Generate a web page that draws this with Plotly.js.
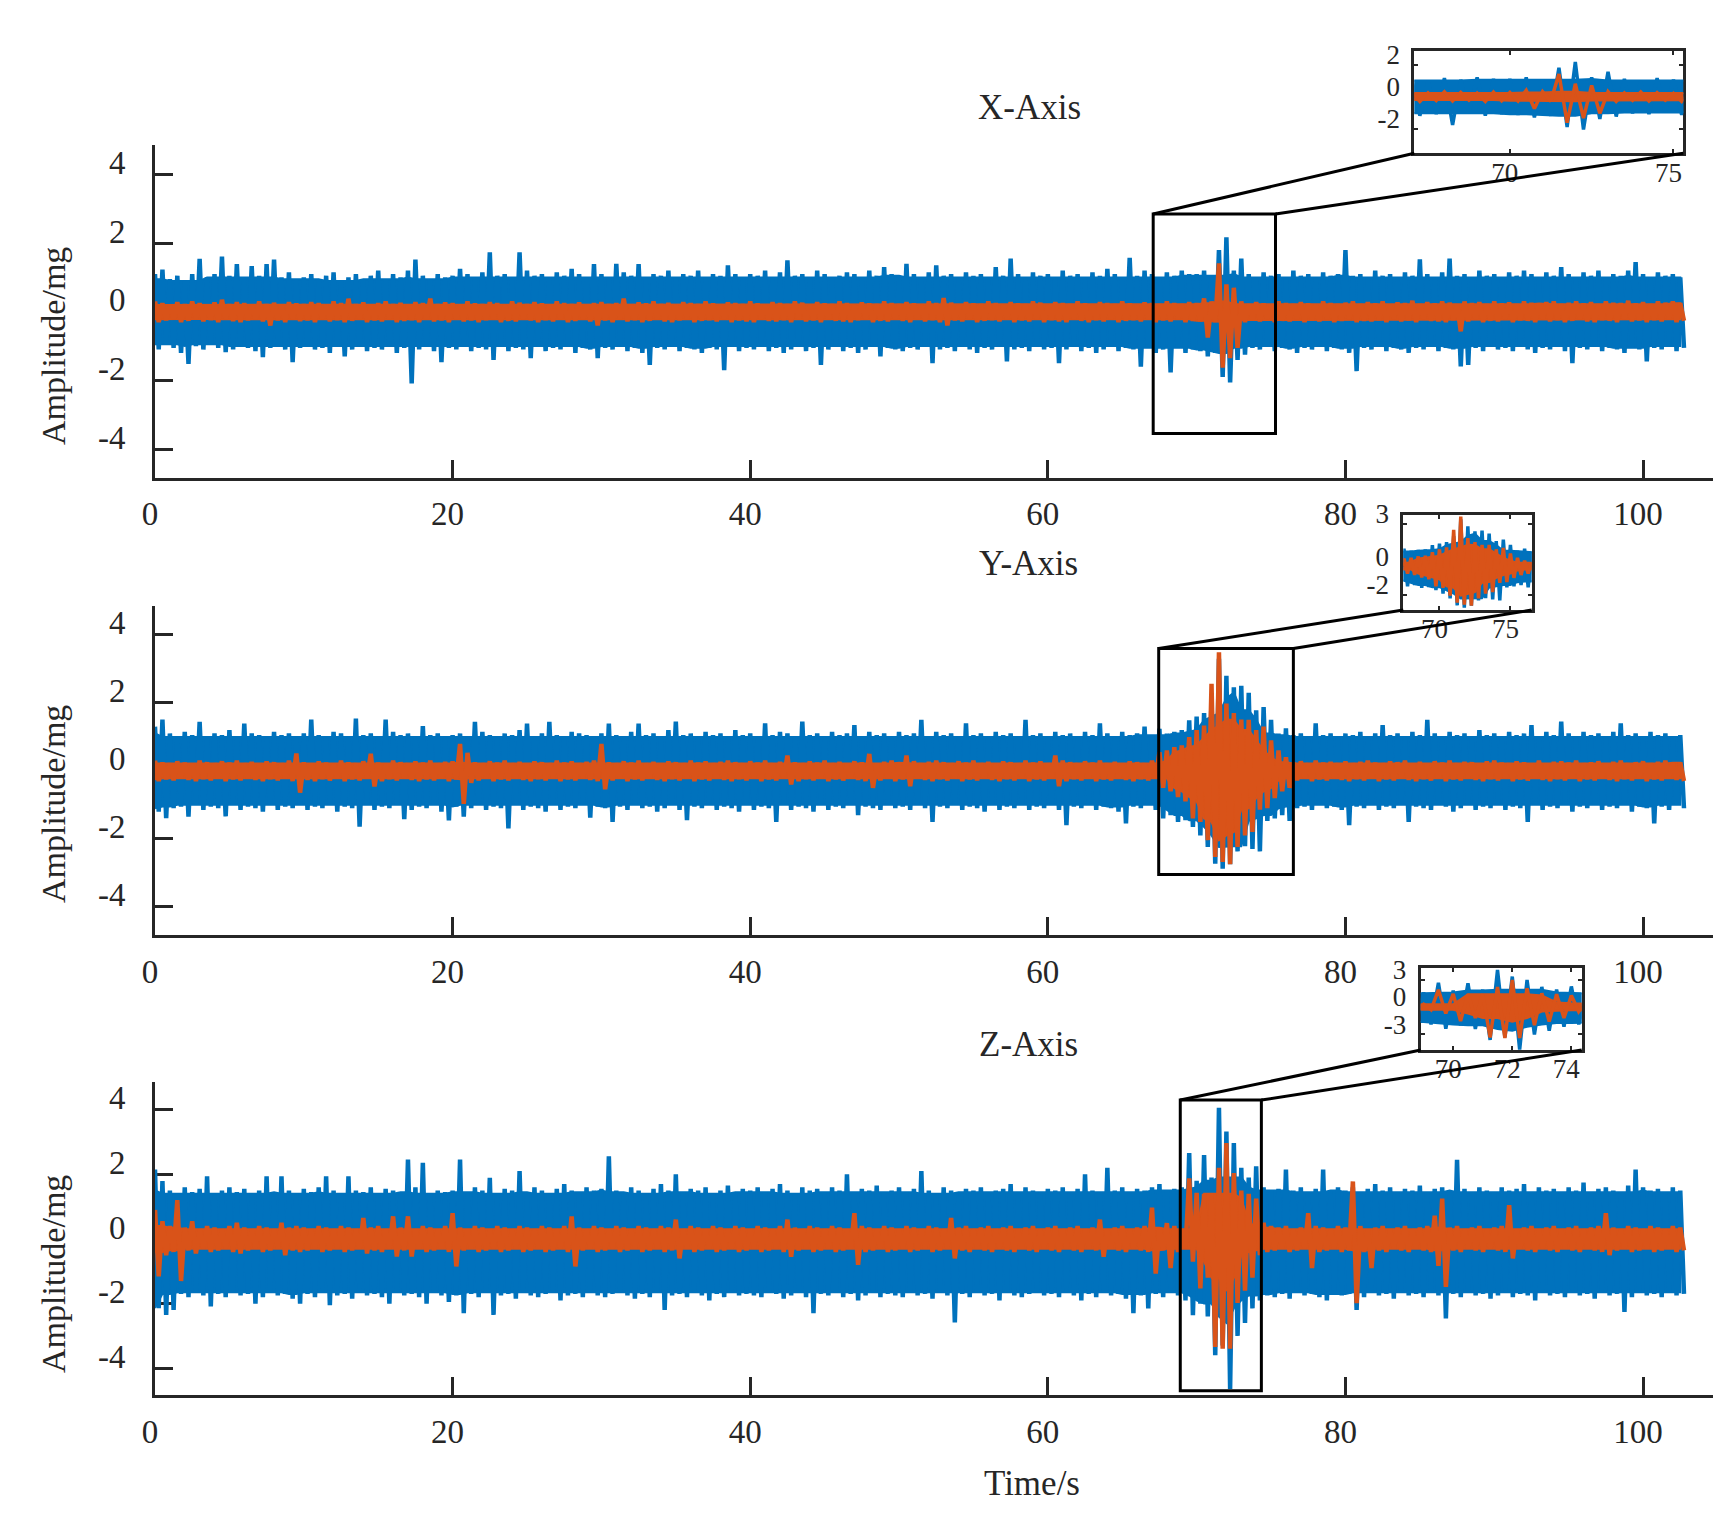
<!DOCTYPE html>
<html><head><meta charset="utf-8">
<script src="https://cdn.plot.ly/plotly-3.0.1.min.js"></script>
<style>html,body{margin:0;padding:0;background:#fff;}#chart{width:1732px;height:1528px;}</style>
</head><body><div id="chart"></div>
<script>
// ---------------- DATA (max / min of each 0.5 s bin) ----------------
const STEP = 0.5; // seconds per bin

// X-Axis : blue signal max / min, orange signal max / min
const xBlueUp = [
1.1,1.23,0.95,1.05,0.9,1.1,1.54,1.0,1.1,1.61,1.05,1.39,1.0,1.33,1.05,1.39,1.52,1.0,1.15,0.95,
1.0,1.1,0.95,1.05,1.15,0.9,1.0,1.1,0.95,1.05,1.2,0.95,1.1,1.0,1.2,1.52,1.05,0.95,1.1,1.0,
1.05,1.25,1.1,1.0,1.15,1.73,1.05,1.1,1.0,1.73,1.2,1.05,1.1,1.0,1.15,1.05,1.25,1.1,1.0,1.39,
1.1,1.0,1.4,1.15,1.05,1.39,1.0,1.1,1.05,1.2,1.0,1.1,1.05,1.2,1.0,1.1,1.05,1.35,1.1,1.0,
1.1,1.05,1.2,1.0,1.15,1.5,1.05,1.1,1.0,1.2,1.1,1.0,1.05,1.15,1.1,1.0,1.2,1.05,1.3,1.1,
1.05,1.4,1.1,1.0,1.15,1.35,1.05,1.1,1.0,1.15,1.05,1.1,1.0,1.3,1.05,1.55,1.1,1.0,1.15,1.05,
1.1,1.0,1.2,1.05,1.1,1.0,1.15,1.05,1.25,1.1,1.0,1.57,1.05,1.2,1.1,1.0,1.15,1.05,1.2,1.1,
1.1,1.2,1.05,1.8,2.17,1.2,1.55,1.1,1.0,1.15,1.05,1.1,1.0,1.2,1.05,1.1,1.0,1.15,1.05,1.1,
1.8,1.05,1.1,1.0,1.2,1.05,1.1,1.0,1.15,1.05,1.53,1.1,1.0,1.15,1.55,1.05,1.1,1.0,1.2,1.05,
1.1,1.0,1.15,1.05,1.2,1.1,1.0,1.15,1.05,1.3,1.1,1.0,1.15,1.05,1.2,1.0,1.1,1.05,1.2,1.45,
1.1,1.0,1.15,1.05,1.1,1.0];
const xBlueLow = [
-1.1,-0.95,-1.05,-1.2,-1.52,-1.0,-1.1,-0.95,-1.05,-1.18,-1.1,-1.0,-1.05,-1.15,-1.32,-1.05,-1.0,-1.1,-1.47,-1.05,
-1.0,-1.1,-1.05,-1.2,-1.0,-1.3,-1.1,-1.0,-1.15,-1.05,-1.1,-1.0,-1.2,-1.05,-2.09,-1.1,-1.0,-1.15,-1.47,-1.05,
-1.1,-1.0,-1.15,-1.05,-1.1,-1.4,-1.0,-1.15,-1.05,-1.1,-1.35,-1.0,-1.15,-1.05,-1.1,-1.0,-1.2,-1.05,-1.1,-1.35,
-1.05,-1.1,-1.0,-1.15,-1.05,-1.2,-1.55,-1.05,-1.1,-1.0,-1.15,-1.05,-1.1,-1.2,-1.05,-1.1,-1.7,-1.0,-1.15,-1.05,
-1.1,-1.0,-1.15,-1.05,-1.2,-1.1,-1.0,-1.15,-1.05,-1.55,-1.1,-1.0,-1.15,-1.05,-1.2,-1.1,-1.0,-1.3,-1.05,-1.1,
-1.15,-1.05,-1.1,-1.0,-1.5,-1.1,-1.05,-1.15,-1.0,-1.1,-1.2,-1.05,-1.1,-1.0,-1.45,-1.1,-1.05,-1.15,-1.0,-1.1,
-1.05,-1.5,-1.1,-1.0,-1.15,-1.05,-1.2,-1.1,-1.0,-1.15,-1.05,-1.1,-1.6,-1.05,-1.2,-1.1,-1.77,-1.05,-1.2,-1.1,
-1.15,-1.3,-1.2,-1.9,-2.06,-1.4,-1.25,-1.05,-1.1,-1.0,-1.15,-1.05,-1.1,-1.2,-1.05,-1.1,-1.0,-1.15,-1.05,-1.1,
-1.2,-1.73,-1.05,-1.1,-1.0,-1.15,-1.05,-1.1,-1.2,-1.05,-1.1,-1.0,-1.15,-1.05,-1.1,-1.59,-1.55,-1.05,-1.15,-1.0,
-1.1,-1.05,-1.15,-1.0,-1.1,-1.2,-1.05,-1.1,-1.0,-1.15,-1.5,-1.05,-1.1,-1.0,-1.15,-1.05,-1.1,-1.2,-1.05,-1.1,
-1.45,-1.05,-1.1,-1.0,-1.15,-1.05];
const xOrangeUp = [
0.3,0.25,0.2,0.28,0.22,0.3,0.25,0.2,0.27,0.35,0.22,0.28,0.25,0.2,0.3,0.22,0.26,0.2,0.28,0.24,
0.22,0.28,0.25,0.2,0.3,0.25,0.38,0.22,0.27,0.2,0.25,0.3,0.22,0.26,0.2,0.28,0.25,0.38,0.22,0.27,
0.25,0.2,0.3,0.24,0.22,0.28,0.25,0.2,0.3,0.26,0.22,0.28,0.24,0.2,0.3,0.25,0.22,0.27,0.2,0.25,
0.28,0.22,0.25,0.38,0.2,0.27,0.24,0.3,0.22,0.26,0.2,0.28,0.25,0.22,0.3,0.24,0.2,0.27,0.25,0.22,
0.3,0.24,0.2,0.28,0.25,0.22,0.3,0.26,0.2,0.28,0.24,0.22,0.3,0.25,0.2,0.27,0.24,0.22,0.3,0.25,
0.22,0.28,0.24,0.2,0.3,0.25,0.4,0.26,0.2,0.28,0.24,0.22,0.3,0.25,0.2,0.28,0.24,0.22,0.3,0.26,
0.2,0.28,0.25,0.22,0.3,0.24,0.2,0.28,0.25,0.22,0.3,0.24,0.2,0.27,0.25,0.22,0.3,0.25,0.22,0.28,
0.25,0.39,0.3,1.41,0.8,0.7,0.3,0.22,0.28,0.24,0.2,0.3,0.25,0.22,0.28,0.24,0.2,0.3,0.25,0.22,
0.26,0.3,0.22,0.28,0.24,0.3,0.2,0.27,0.25,0.32,0.22,0.28,0.24,0.3,0.26,0.22,0.3,0.25,0.28,0.22,
0.3,0.24,0.27,0.22,0.3,0.26,0.24,0.28,0.3,0.22,0.26,0.3,0.24,0.28,0.22,0.3,0.26,0.25,0.32,0.24,
0.28,0.22,0.3,0.26,0.3,0.25];
const xOrangeLow = [
-0.3,-0.25,-0.22,-0.3,-0.26,-0.2,-0.28,-0.24,-0.3,-0.22,-0.27,-0.3,-0.25,-0.22,-0.28,-0.4,-0.25,-0.3,-0.22,-0.27,
-0.25,-0.3,-0.22,-0.28,-0.24,-0.3,-0.26,-0.22,-0.3,-0.25,-0.28,-0.22,-0.3,-0.26,-0.24,-0.3,-0.22,-0.28,-0.25,-0.3,
-0.22,-0.28,-0.25,-0.3,-0.24,-0.22,-0.3,-0.26,-0.28,-0.22,-0.25,-0.3,-0.24,-0.28,-0.22,-0.3,-0.26,-0.22,-0.28,-0.4,
-0.25,-0.3,-0.22,-0.28,-0.24,-0.3,-0.26,-0.22,-0.28,-0.3,-0.25,-0.22,-0.3,-0.26,-0.24,-0.28,-0.22,-0.3,-0.25,-0.28,
-0.3,-0.22,-0.26,-0.28,-0.24,-0.3,-0.22,-0.28,-0.25,-0.3,-0.22,-0.26,-0.28,-0.3,-0.24,-0.22,-0.3,-0.26,-0.28,-0.22,
-0.26,-0.3,-0.22,-0.28,-0.24,-0.3,-0.4,-0.25,-0.28,-0.22,-0.3,-0.26,-0.24,-0.28,-0.22,-0.3,-0.25,-0.28,-0.22,-0.3,
-0.24,-0.28,-0.3,-0.22,-0.26,-0.3,-0.24,-0.28,-0.22,-0.3,-0.26,-0.24,-0.28,-0.22,-0.3,-0.25,-0.28,-0.22,-0.3,-0.26,
-0.28,-0.75,-0.3,-1.63,-1.35,-1.05,-0.3,-0.24,-0.28,-0.22,-0.3,-0.26,-0.28,-0.22,-0.3,-0.25,-0.28,-0.22,-0.3,-0.26,
-0.22,-0.3,-0.26,-0.28,-0.24,-0.3,-0.22,-0.28,-0.25,-0.3,-0.22,-0.26,-0.28,-0.3,-0.24,-0.57,-0.28,-0.22,-0.3,-0.26,
-0.28,-0.22,-0.3,-0.25,-0.26,-0.3,-0.22,-0.28,-0.24,-0.3,-0.26,-0.22,-0.28,-0.3,-0.24,-0.26,-0.3,-0.22,-0.28,-0.25,
-0.3,-0.24,-0.28,-0.22,-0.3,-0.26];

// Y-Axis
const yBlueUp = [
1.3,1.51,1.1,1.0,1.15,1.05,1.44,1.0,1.1,1.05,1.2,1.0,1.39,1.1,1.05,1.0,1.15,1.05,1.1,1.0,
1.1,1.51,1.05,1.0,1.15,1.1,1.0,1.54,1.05,1.1,1.0,1.51,1.15,1.05,1.1,1.0,1.32,1.05,1.1,1.0,
1.05,1.1,1.0,1.44,1.15,1.05,1.0,1.1,1.05,1.2,1.39,1.0,1.1,1.44,1.05,1.0,1.15,1.1,1.05,1.0,
1.1,1.39,1.05,1.0,1.15,1.39,1.05,1.1,1.0,1.2,1.45,1.05,1.1,1.0,1.15,1.05,1.1,1.0,1.2,1.05,
1.1,1.0,1.4,1.05,1.15,1.1,1.0,1.45,1.05,1.1,1.0,1.15,1.05,1.1,1.35,1.0,1.15,1.05,1.1,1.0,
1.15,1.05,1.1,1.5,1.0,1.15,1.05,1.1,1.0,1.4,1.05,1.1,1.0,1.15,1.05,1.1,1.0,1.5,1.05,1.1,
1.0,1.15,1.05,1.1,1.0,1.15,1.05,1.4,1.1,1.0,1.15,1.05,1.1,1.3,1.05,1.24,1.1,1.15,1.2,1.49,
1.6,1.7,2.13,3.3,2.8,2.46,2.5,2.3,1.78,1.88,1.5,1.1,1.25,1.05,1.1,1.0,1.4,1.05,1.1,1.0,
1.1,1.05,1.15,1.0,1.1,1.35,1.05,1.1,1.0,1.15,1.05,1.5,1.1,1.0,1.15,1.05,1.1,1.0,1.2,1.05,
1.1,1.0,1.15,1.05,1.1,1.35,1.0,1.15,1.05,1.45,1.1,1.0,1.15,1.05,1.1,1.0,1.15,1.4,1.05,1.1,
1.0,1.15,1.05,1.1,1.0,1.05];
const yBlueLow = [
-1.2,-1.39,-1.1,-1.05,-1.35,-1.0,-1.15,-1.05,-1.1,-1.34,-1.0,-1.15,-1.05,-1.1,-1.2,-1.0,-1.15,-1.05,-1.1,-1.0,
-1.15,-1.05,-1.1,-1.0,-1.2,-1.05,-1.1,-1.64,-1.0,-1.15,-1.05,-1.1,-1.0,-1.42,-1.15,-1.05,-1.1,-1.0,-1.2,-1.46,
-1.05,-1.35,-1.1,-1.0,-1.15,-1.05,-1.1,-1.69,-1.0,-1.15,-1.05,-1.1,-1.2,-1.0,-1.15,-1.05,-1.1,-1.0,-1.38,-1.05,
-1.1,-1.5,-1.05,-1.15,-1.0,-1.1,-1.05,-1.2,-1.1,-1.0,-1.15,-1.45,-1.05,-1.1,-1.0,-1.15,-1.05,-1.1,-1.2,-1.0,
-1.15,-1.05,-1.1,-1.5,-1.0,-1.15,-1.05,-1.1,-1.2,-1.0,-1.15,-1.05,-1.1,-1.0,-1.3,-1.05,-1.1,-1.15,-1.0,-1.1,
-1.05,-1.15,-1.0,-1.1,-1.5,-1.05,-1.1,-1.0,-1.15,-1.05,-1.1,-1.2,-1.0,-1.15,-1.05,-1.1,-1.0,-1.15,-1.05,-1.1,
-1.0,-1.15,-1.6,-1.05,-1.1,-1.0,-1.15,-1.05,-1.1,-1.2,-1.55,-1.05,-1.1,-1.0,-1.15,-1.4,-1.3,-1.5,-1.45,-1.65,
-1.9,-2.24,-2.73,-2.88,-2.75,-2.37,-2.22,-2.3,-2.37,-1.47,-1.4,-1.3,-1.47,-1.1,-1.05,-1.15,-1.0,-1.1,-1.05,-1.15,
-1.6,-1.05,-1.1,-1.0,-1.15,-1.05,-1.1,-1.0,-1.5,-1.05,-1.1,-1.15,-1.0,-1.05,-1.2,-1.1,-1.0,-1.15,-1.05,-1.1,
-1.0,-1.15,-1.05,-1.1,-1.5,-1.0,-1.15,-1.05,-1.1,-1.0,-1.2,-1.05,-1.1,-1.0,-1.15,-1.05,-1.1,-1.0,-1.2,-1.05,
-1.1,-1.55,-1.05,-1.15,-1.0,-1.1];
const yOrangeUp = [
0.3,0.25,0.22,0.28,0.24,0.2,0.3,0.25,0.22,0.28,0.24,0.3,0.22,0.26,0.2,0.28,0.25,0.22,0.3,0.51,
0.25,0.22,0.28,0.24,0.2,0.3,0.25,0.22,0.28,0.5,0.24,0.2,0.3,0.25,0.22,0.28,0.24,0.3,0.22,0.26,
0.28,0.79,0.53,0.25,0.22,0.28,0.24,0.3,0.22,0.26,0.2,0.28,0.25,0.22,0.3,0.24,0.28,0.22,0.26,0.3,
0.79,0.25,0.22,0.28,0.24,0.3,0.22,0.26,0.2,0.28,0.25,0.22,0.3,0.24,0.28,0.22,0.26,0.3,0.25,0.22,
0.28,0.24,0.3,0.22,0.26,0.45,0.25,0.22,0.28,0.24,0.3,0.22,0.26,0.2,0.28,0.25,0.5,0.22,0.26,0.3,
0.24,0.45,0.28,0.22,0.26,0.3,0.25,0.22,0.28,0.24,0.3,0.22,0.26,0.2,0.28,0.25,0.22,0.3,0.24,0.28,
0.22,0.45,0.3,0.25,0.22,0.28,0.24,0.3,0.22,0.26,0.2,0.28,0.25,0.22,0.3,0.55,0.6,0.7,0.75,0.99,
1.2,1.33,2.56,3.49,1.98,1.7,1.51,1.5,1.2,1.3,0.9,0.6,0.4,0.25,0.28,0.22,0.3,0.24,0.26,0.22,
0.28,0.22,0.26,0.3,0.24,0.22,0.28,0.25,0.3,0.22,0.26,0.2,0.28,0.24,0.3,0.22,0.26,0.25,0.22,0.28,
0.3,0.24,0.22,0.28,0.25,0.2,0.3,0.22,0.26,0.28,0.24,0.3,0.22,0.25,0.28,0.2,0.26,0.3,0.22,0.25,
0.28,0.22,0.26,0.3,0.24,0.25];
const yOrangeLow = [
-0.3,-0.25,-0.28,-0.22,-0.26,-0.3,-0.24,-0.28,-0.22,-0.3,-0.25,-0.28,-0.22,-0.26,-0.3,-0.24,-0.28,-0.22,-0.3,-0.64,
-0.26,-0.3,-0.24,-0.28,-0.22,-0.3,-0.25,-0.28,-0.22,-0.46,-0.3,-0.24,-0.28,-0.22,-0.26,-0.3,-0.25,-0.28,-0.22,-0.3,
-0.25,-0.97,-0.35,-0.28,-0.22,-0.3,-0.25,-0.28,-0.22,-0.26,-0.3,-0.24,-0.28,-0.22,-0.3,-0.25,-0.28,-0.22,-0.26,-0.3,
-0.54,-0.28,-0.22,-0.3,-0.25,-0.28,-0.22,-0.26,-0.3,-0.24,-0.28,-0.22,-0.3,-0.25,-0.28,-0.22,-0.26,-0.3,-0.24,-0.28,
-0.22,-0.3,-0.25,-0.28,-0.22,-0.4,-0.3,-0.24,-0.28,-0.22,-0.3,-0.25,-0.28,-0.22,-0.26,-0.3,-0.5,-0.28,-0.22,-0.3,
-0.25,-0.45,-0.22,-0.26,-0.3,-0.24,-0.28,-0.22,-0.3,-0.25,-0.28,-0.22,-0.26,-0.3,-0.24,-0.28,-0.22,-0.3,-0.25,-0.28,
-0.22,-0.45,-0.3,-0.24,-0.28,-0.22,-0.3,-0.25,-0.28,-0.22,-0.26,-0.3,-0.24,-0.28,-0.22,-0.5,-0.6,-0.77,-0.9,-1.4,
-1.5,-2.04,-2.53,-2.68,-2.75,-2.24,-1.9,-1.8,-1.14,-1.1,-0.8,-0.6,-0.5,-0.28,-0.22,-0.3,-0.25,-0.28,-0.22,-0.26,
-0.3,-0.24,-0.28,-0.22,-0.3,-0.25,-0.28,-0.22,-0.26,-0.3,-0.24,-0.28,-0.22,-0.3,-0.25,-0.28,-0.22,-0.26,-0.3,-0.24,
-0.28,-0.22,-0.3,-0.25,-0.28,-0.22,-0.26,-0.3,-0.24,-0.28,-0.22,-0.3,-0.25,-0.28,-0.22,-0.26,-0.3,-0.24,-0.28,-0.22,
-0.3,-0.25,-0.28,-0.22,-0.26,-0.3];

// Z-Axis
const zBlueUp = [
2.15,1.79,1.5,1.4,1.6,1.45,1.55,1.94,1.4,1.5,1.6,1.45,1.55,1.4,1.5,1.94,1.45,1.94,1.5,1.4,
1.55,1.45,1.6,1.94,1.5,1.4,1.94,1.5,1.45,1.6,1.4,1.55,1.5,1.45,2.46,1.6,2.36,1.4,1.5,1.45,
1.5,2.46,1.45,1.6,1.5,1.89,1.4,1.55,1.5,2.1,1.45,1.6,1.5,1.4,1.55,1.7,1.5,1.45,1.6,1.5,
1.55,2.56,1.5,1.45,1.6,1.5,1.4,1.55,1.7,1.5,2.0,1.45,1.55,1.5,1.6,1.4,1.5,1.65,1.45,1.55,
1.5,1.6,1.45,1.55,1.7,1.5,1.4,1.6,1.5,1.55,1.45,1.6,1.5,2.0,1.45,1.55,1.5,1.65,1.45,1.5,
1.6,1.45,1.55,2.1,1.5,1.4,1.6,1.5,1.45,1.55,1.5,1.6,1.45,1.5,1.55,1.7,1.45,1.6,1.5,1.45,
1.55,1.5,1.6,1.45,1.55,2.0,1.5,1.45,2.2,1.5,1.6,1.45,1.55,1.5,1.6,1.7,1.5,1.55,1.6,2.66,
1.8,2.6,1.9,4.06,3.33,2.97,2.2,1.9,2.25,1.6,1.5,1.55,2.15,1.5,1.6,1.45,1.55,2.15,1.5,1.6,
1.5,1.6,1.45,1.55,1.7,1.5,1.6,1.45,1.55,1.5,1.65,1.45,1.55,1.6,1.5,2.45,1.55,1.45,1.6,1.5,
1.45,1.6,1.5,1.55,1.7,1.45,1.6,1.5,1.55,1.45,1.6,1.5,1.75,1.45,1.55,1.6,1.5,1.45,1.65,2.15,
1.6,1.5,1.55,1.45,1.6,1.5];
const zBlueLow = [
-2.14,-2.35,-2.2,-1.7,-1.8,-1.65,-1.75,-2.09,-1.7,-1.8,-1.65,-1.75,-1.7,-2.0,-1.8,-1.65,-1.75,-1.7,-1.85,-2.0,
-1.7,-1.8,-1.65,-2.05,-1.75,-1.7,-1.85,-1.65,-1.75,-1.7,-1.8,-2.0,-1.65,-1.75,-1.7,-1.8,-2.0,-1.65,-1.75,-1.95,
-1.75,-2.3,-1.7,-1.8,-1.65,-2.35,-1.75,-1.7,-1.85,-1.65,-1.75,-1.8,-1.7,-1.65,-1.9,-1.75,-1.7,-1.8,-1.65,-1.75,
-1.8,-1.7,-1.65,-1.75,-1.85,-1.7,-1.8,-1.65,-2.2,-1.75,-1.7,-1.8,-1.65,-1.75,-1.9,-1.7,-1.8,-1.65,-1.75,-1.7,
-1.75,-1.8,-1.65,-1.7,-1.85,-1.75,-1.65,-1.8,-2.3,-1.7,-1.75,-1.65,-1.8,-1.7,-1.9,-1.75,-1.65,-1.8,-1.7,-1.75,
-1.8,-1.65,-1.75,-1.7,-1.85,-1.65,-1.75,-2.58,-1.7,-1.8,-1.65,-1.75,-1.7,-1.9,-1.65,-1.75,-1.8,-1.7,-1.65,-1.75,
-1.7,-1.8,-1.65,-1.75,-1.9,-1.7,-1.8,-1.65,-1.75,-1.7,-1.85,-2.3,-1.75,-2.15,-1.7,-1.8,-1.65,-1.75,-1.9,-2.36,
-2.0,-2.4,-3.6,-3.3,-4.64,-3.0,-2.6,-2.15,-1.9,-1.75,-1.8,-1.7,-1.85,-1.65,-1.75,-1.7,-1.8,-1.9,-1.7,-1.75,
-1.7,-2.2,-1.8,-1.65,-1.75,-1.7,-1.85,-1.65,-1.75,-1.7,-1.8,-1.65,-1.75,-2.46,-1.7,-1.8,-1.65,-1.75,-1.7,-1.85,
-1.75,-1.65,-1.8,-1.7,-1.75,-1.9,-1.65,-1.75,-1.7,-1.8,-1.65,-1.75,-1.7,-1.85,-1.65,-1.75,-1.7,-2.26,-1.8,-1.65,
-1.75,-1.7,-1.8,-1.65,-1.75,-1.7];
const zOrangeUp = [
0.9,0.55,0.4,1.2,0.35,0.55,0.3,0.4,0.35,0.3,0.4,0.5,0.35,0.3,0.4,0.35,0.3,0.5,0.35,0.4,
0.35,0.3,0.4,0.35,0.3,0.4,0.35,0.3,0.65,0.35,0.4,0.3,0.7,0.35,0.7,0.3,0.4,0.35,0.3,0.4,
0.8,0.35,0.3,0.4,0.35,0.3,0.4,0.35,0.3,0.4,0.35,0.3,0.4,0.35,0.3,0.4,0.7,0.35,0.3,0.4,
0.35,0.3,0.4,0.35,0.3,0.4,0.35,0.3,0.4,0.35,0.6,0.3,0.4,0.35,0.3,0.4,0.35,0.3,0.4,0.35,
0.3,0.4,0.35,0.3,0.4,0.6,0.35,0.3,0.4,0.35,0.3,0.4,0.35,0.3,0.8,0.4,0.35,0.3,0.4,0.35,
0.3,0.4,0.35,0.3,0.4,0.35,0.3,0.65,0.35,0.4,0.3,0.35,0.4,0.3,0.35,0.4,0.3,0.35,0.4,0.3,
0.35,0.4,0.3,0.35,0.4,0.3,0.35,0.6,0.3,0.35,0.4,0.3,0.35,0.4,0.97,0.35,0.49,0.4,0.3,1.88,
1.43,1.4,1.4,2.2,2.97,2.04,1.5,1.4,1.25,0.5,0.4,0.35,0.4,0.3,0.35,0.8,0.4,0.35,0.3,0.4,
0.35,1.78,0.4,0.3,0.35,0.4,0.3,0.35,0.4,0.3,0.35,0.4,0.72,1.25,0.35,0.4,0.3,0.35,0.4,0.3,
0.35,0.4,1.05,0.3,0.35,0.4,0.3,0.35,0.4,0.3,0.35,0.4,0.3,0.35,0.4,0.8,0.35,0.3,0.4,0.35,
0.3,0.4,0.35,0.3,0.4,0.35];
const zOrangeLow = [
-1.16,-0.5,-0.4,-1.3,-0.35,-0.45,-0.3,-0.4,-0.35,-0.3,-0.4,-0.45,-0.35,-0.3,-0.4,-0.35,-0.3,-0.5,-0.35,-0.4,
-0.35,-0.3,-0.4,-0.35,-0.3,-0.4,-0.35,-0.3,-0.45,-0.35,-0.4,-0.3,-0.54,-0.35,-0.54,-0.3,-0.4,-0.35,-0.3,-0.4,
-0.85,-0.35,-0.3,-0.4,-0.35,-0.3,-0.4,-0.35,-0.3,-0.4,-0.35,-0.3,-0.4,-0.35,-0.3,-0.4,-0.85,-0.35,-0.3,-0.4,
-0.35,-0.3,-0.4,-0.35,-0.3,-0.4,-0.35,-0.3,-0.4,-0.35,-0.6,-0.3,-0.4,-0.35,-0.3,-0.4,-0.35,-0.3,-0.4,-0.35,
-0.3,-0.4,-0.35,-0.3,-0.4,-0.55,-0.35,-0.3,-0.4,-0.35,-0.3,-0.4,-0.35,-0.3,-0.8,-0.4,-0.35,-0.3,-0.4,-0.35,
-0.3,-0.4,-0.35,-0.3,-0.4,-0.35,-0.3,-0.6,-0.35,-0.4,-0.3,-0.35,-0.4,-0.3,-0.35,-0.4,-0.3,-0.35,-0.4,-0.3,
-0.35,-0.4,-0.3,-0.35,-0.4,-0.3,-0.35,-0.55,-0.3,-0.35,-0.4,-0.3,-0.35,-0.4,-1.07,-0.35,-0.9,-0.4,-0.3,-0.7,
-1.53,-1.2,-3.34,-3.4,-3.4,-1.98,-1.6,-1.2,-0.5,-0.4,-0.35,-0.3,-0.4,-0.35,-0.3,-0.9,-0.4,-0.35,-0.3,-0.4,
-0.35,-1.99,-0.4,-0.9,-0.35,-0.4,-0.3,-0.35,-0.4,-0.3,-0.35,-0.4,-0.83,-1.48,-0.35,-0.4,-0.3,-0.35,-0.4,-0.3,
-0.35,-0.4,-0.6,-0.3,-0.35,-0.4,-0.3,-0.35,-0.4,-0.3,-0.35,-0.4,-0.3,-0.35,-0.4,-0.5,-0.35,-0.3,-0.4,-0.35,
-0.3,-0.4,-0.35,-0.3,-0.4,-0.35];

// Axis ticks and labels
const panelTitles = ['X-Axis', 'Y-Axis', 'Z-Axis'];
const xTickVals = [0, 20, 40, 60, 80, 100];
const yTickVals = [-4, -2, 0, 2, 4];
const yTickText = ['-4', '-2', '0', '2', '4'];
const insetXTicks = [[70, 75], [70, 75], [70, 72, 74]];
const insetYTicks = [[-2, 0, 2], [-2, 0, 3], [-3, 0, 3]];
const insetYText  = [['-2', '0', '2'], ['-2', '0', '3'], ['-3', '0', '3']];
// zoom windows (time range, amplitude range) shown in each inset
const zoomTime = [[67.08, 75.3], [67.45, 76.5], [68.9, 74.35]];
const zoomAmp  = [[-3.55, 2.85], [-3.05, 3.6], [-4.7, 4.3]];
const xRangeMain = [0, 104.7];
const yRangeMain = [-4.83, 4.86];

// ---------------- LAYOUT ----------------
const W = 1732, H = 1528;
const FONT = 'Liberation Serif, Times New Roman, serif';
const AX = '#262626';
const BLUE = '#0072BD', ORANGE = '#D95319';
const px = v => v / W, py = v => 1 - v / H;

const mainBox = [[155, 1713, 145, 477.5], [155, 1713, 605.7, 935], [155, 1713, 1082, 1395]];
const insetBox = [[1414.3, 1683.3, 51, 153.3], [1403.3, 1531.7, 515, 610], [1420.7, 1581.7, 967.7, 1050]];
const titlePos = [[1029, 108], [1028, 564], [1028, 1044]];
const ylabelY = [346, 804, 1274];

const panels = [
  [xBlueUp, xBlueLow, xOrangeUp, xOrangeLow],
  [yBlueUp, yBlueLow, yOrangeUp, yOrangeLow],
  [zBlueUp, zBlueLow, zOrangeUp, zOrangeLow]
];

const traces = [];
// one signal: solid core (common level of neighbouring bins) + min/max trace of each bin
function addSignal(up, low, color, xa, ya, lw) {
  const n = Math.min(up.length, low.length);
  const t = [], coreTop = [], coreBot = [];
  for (let i = 0; i < n; i++) {
    const a = Math.max(0, i - 2), b = Math.min(n - 1, i + 2);
    t.push(i * STEP);
    coreTop.push(Math.min(...up.slice(a, b + 1)));
    coreBot.push(Math.max(...low.slice(a, b + 1)));
  }
  traces.push({type: 'scatter', mode: 'lines', xaxis: xa, yaxis: ya,
    x: t.concat(t.slice().reverse()), y: coreTop.concat(coreBot.slice().reverse()),
    fill: 'toself', fillcolor: color, line: {color: color, width: 2},
    hoverinfo: 'skip', showlegend: false});
  const zx = [], zy = [];
  for (let i = 0; i < n; i++) {
    zx.push(i * STEP, i * STEP + STEP / 2);
    zy.push(up[i], low[i]);
  }
  traces.push({type: 'scatter', mode: 'lines', xaxis: xa, yaxis: ya, x: zx, y: zy,
    line: {color: color, width: lw}, hoverinfo: 'skip', showlegend: false});
}

const layout = {
  width: W, height: H, margin: {l: 0, r: 0, t: 0, b: 0},
  paper_bgcolor: '#fff', plot_bgcolor: 'rgba(0,0,0,0)', showlegend: false,
  annotations: [], shapes: []
};

function id(n) { return n === 1 ? '' : String(n); }

for (let p = 0; p < 3; p++) {
  const [bu, bl, ou, ol] = panels[p];
  const m = p + 1, s = p + 4;
  const xa = 'x' + id(m), ya = 'y' + id(m);
  const xs = 'x' + s, ys = 'y' + s;
  addSignal(bu, bl, BLUE, xa, ya, 4.5);
  addSignal(ou, ol, ORANGE, xa, ya, 4.5);
  addSignal(bu, bl, BLUE, xs, ys, 3.5);
  addSignal(ou, ol, ORANGE, xs, ys, 3.5);

  const mb = mainBox[p], ib = insetBox[p];
  const mxd = [px(mb[0]), px(mb[1])], myd = [py(mb[3]), py(mb[2])];
  const ixd = [px(ib[0]), px(ib[1])], iyd = [py(ib[3]), py(ib[2])];

  layout['xaxis' + id(m)] = {
    domain: mxd, range: xRangeMain, anchor: ya, tickmode: 'array', tickvals: xTickVals,
    ticks: 'inside', ticklen: 18, tickwidth: 3, tickcolor: AX, showline: true, linewidth: 3, linecolor: AX,
    showgrid: false, zeroline: false, layer: 'below traces', fixedrange: true,
    tickfont: {family: FONT, size: 33, color: AX}, ticklabelshift: -5, ticklabelstandoff: 5
  };
  layout['yaxis' + id(m)] = {
    domain: myd, range: yRangeMain, anchor: xa, tickmode: 'array', tickvals: yTickVals, ticktext: yTickText,
    ticks: 'inside', ticklen: 18, tickwidth: 3, tickcolor: AX, showline: true, linewidth: 3, linecolor: AX,
    showgrid: false, zeroline: false, layer: 'below traces', fixedrange: true,
    tickfont: {family: FONT, size: 33, color: AX}, ticklabelshift: -12, ticklabelstandoff: 20
  };
  layout['xaxis' + s] = {
    domain: ixd, range: zoomTime[p], anchor: ys, tickmode: 'array', tickvals: insetXTicks[p],
    ticks: 'inside', ticklen: 4, tickwidth: 2, tickcolor: AX, showline: true, linewidth: 3, linecolor: AX,
    mirror: 'ticks', showgrid: false, zeroline: false, layer: 'below traces', fixedrange: true,
    tickfont: {family: FONT, size: 27, color: AX}, ticklabelshift: -5, ticklabelstandoff: -7
  };
  layout['yaxis' + s] = {
    domain: iyd, range: zoomAmp[p], anchor: xs, tickmode: 'array', tickvals: insetYTicks[p], ticktext: insetYText[p],
    ticks: 'inside', ticklen: 4, tickwidth: 2, tickcolor: AX, showline: true, linewidth: 3, linecolor: AX,
    mirror: 'ticks', showgrid: false, zeroline: false, layer: 'below traces', fixedrange: true,
    tickfont: {family: FONT, size: 27, color: AX}, ticklabelshift: -10, ticklabelstandoff: 6
  };

  // zoom rectangle on the main axes
  layout.shapes.push({type: 'rect', xref: xa, yref: ya, x0: zoomTime[p][0], x1: zoomTime[p][1],
    y0: zoomAmp[p][0], y1: zoomAmp[p][1], line: {color: '#000', width: 3}, fillcolor: 'rgba(0,0,0,0)'});
  // connector lines from the rectangle's top corners to the inset's bottom corners
  const toPX = v => mxd[0] + (v - xRangeMain[0]) / (xRangeMain[1] - xRangeMain[0]) * (mxd[1] - mxd[0]);
  const toPY = v => myd[0] + (v - yRangeMain[0]) / (yRangeMain[1] - yRangeMain[0]) * (myd[1] - myd[0]);
  layout.shapes.push({type: 'line', xref: 'paper', yref: 'paper',
    x0: toPX(zoomTime[p][0]), y0: toPY(zoomAmp[p][1]), x1: ixd[0], y1: iyd[0], line: {color: '#000', width: 3}});
  layout.shapes.push({type: 'line', xref: 'paper', yref: 'paper',
    x0: toPX(zoomTime[p][1]), y0: toPY(zoomAmp[p][1]), x1: ixd[1], y1: iyd[0], line: {color: '#000', width: 3}});

  layout.annotations.push({text: panelTitles[p], xref: 'paper', yref: 'paper',
    x: px(titlePos[p][0]), y: py(titlePos[p][1]), xanchor: 'center', yanchor: 'middle', showarrow: false,
    font: {family: FONT, size: 35, color: AX}});
  layout.annotations.push({text: 'Amplitude/mg', xref: 'paper', yref: 'paper',
    x: px(53), y: py(ylabelY[p]), xanchor: 'center', yanchor: 'middle', textangle: -90, showarrow: false,
    font: {family: FONT, size: 34, color: AX}});
}
layout.annotations.push({text: 'Time/s', xref: 'paper', yref: 'paper', x: px(1032), y: py(1483),
  xanchor: 'center', yanchor: 'middle', showarrow: false, font: {family: FONT, size: 35, color: AX}});

Plotly.newPlot('chart', traces, layout, {staticPlot: true, displayModeBar: false});
</script></body></html>
